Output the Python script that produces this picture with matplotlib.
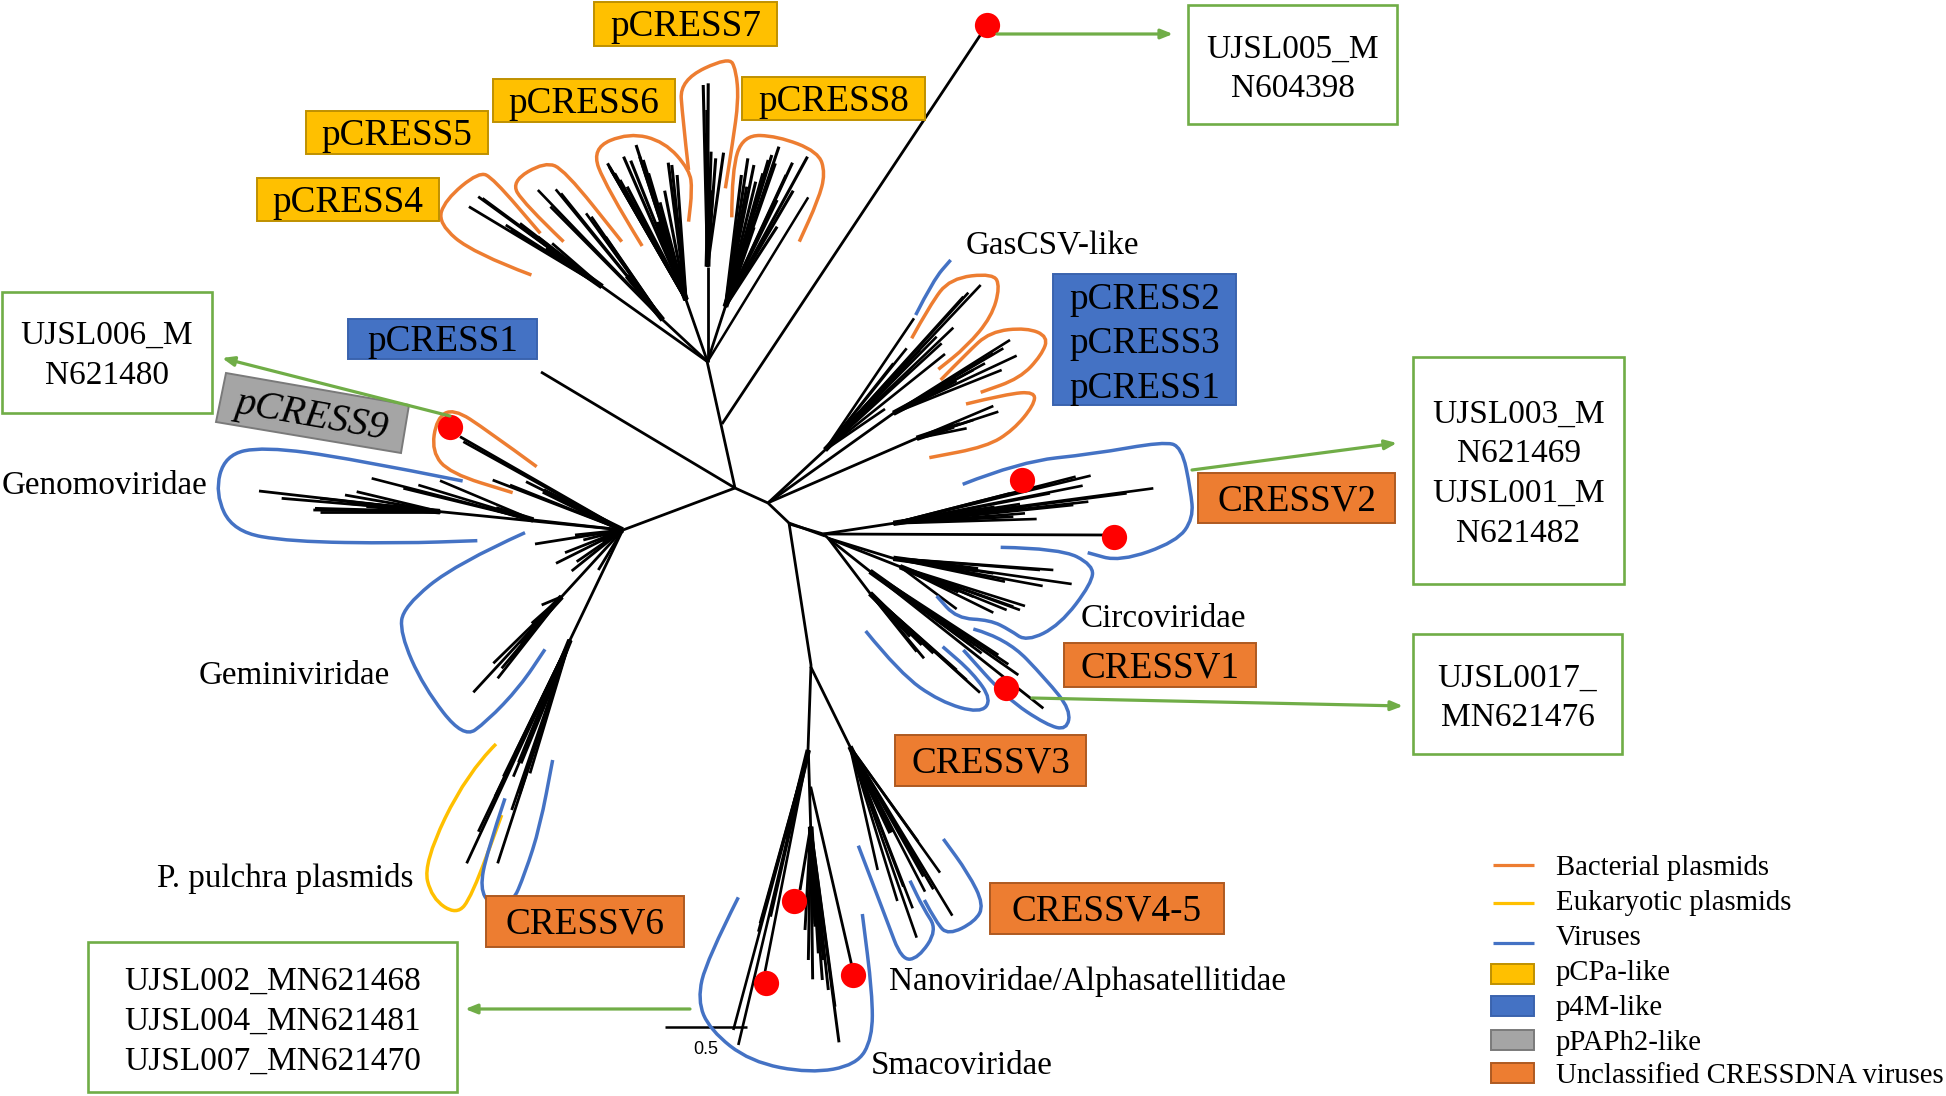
from matplotlib import pyplot as plt
from matplotlib.path import Path
import matplotlib.patches as mpatches
import numpy as np

plt.rcParams['font.family'] = ['Liberation Serif', 'DejaVu Serif']

BLACK = 'black'
ORANGE = '#ED7D31'
YELLOW = '#FFC000'
BLUE = '#4472C4'
GRAY = '#A5A5A5'
GREEN = '#70AD47'
RED = '#FF0000'
EDGES = {YELLOW: '#BF9000', BLUE: '#3A63AE', GRAY: '#7A7A7A', ORANGE: '#AE5A21'}

SIZE_BOX = 26.8
SIZE_LABEL = 23.9
SIZE_NOTE = 24.0
SIZE_LEGEND = 20.7


def crop(x0, y0, sx, sy, pts):
    return [(x0 + x / sx, y0 + y / sy) for x, y in pts]


def c1(pts):
    return crop(420, 0, 2.8, 3, pts)


def c2(pts):
    return crop(760, 230, 3, 3, pts)


def c3(pts):
    return crop(200, 400, 3, 3, pts)


def c4(pts):
    return crop(640, 660, 3, 3, pts)


# backbone of the tree
backbone = [
    [(707, 361), (735, 488)],
    [(541, 372), (735, 488)],
    [(623, 530), (735, 488)],
    [(735, 488), (768, 503), (789, 523), (825, 536)],
    [(789, 523), (811, 665), (808, 750)],
    [(987, 25), (722, 424)],
]

# clusters: hub, inner node, tips
top_hub = c1([(805, 1085)])[0]
pcress4_node = c1([(510, 860)])[0]
pcress4_tips = c1([(163, 590), (137, 620), (240, 675), (280, 670), (370, 730), (300, 695), (175, 595), (330, 710), (255, 690)])
pcress5_node = c1([(680, 960)])[0]
pcress5_tips = c1([(330, 570), (380, 568), (365, 620), (465, 640), (500, 690), (395, 580), (480, 650), (520, 710)])
pcress6_node = c1([(745, 900)])[0]
pcress6_tips = c1([(525, 490), (530, 500), (570, 470), (590, 482), (605, 435), (695, 488), (720, 525), (672, 607),
                   (685, 572), (545, 520), (615, 470), (705, 495), (625, 480), (560, 540), (535, 510), (580, 560), (640, 520)])
pcress7_node = c1([(805, 800)])[0]
pcress7_tips = c1([(793, 255), (807, 250), (815, 455), (850, 458), (828, 475), (808, 600), (820, 570), (800, 400), (803, 330)])
pcress8_node = c1([(855, 920)])[0]
pcress8_tips = c1([(1005, 440), (918, 475), (935, 495), (900, 525), (985, 465), (995, 490), (1043, 488), (1085, 470),
                   (1000, 680), (1045, 572), (940, 545), (1025, 525), (975, 480), (915, 560), (960, 520), (1000, 600)])
pcress8_outer = c1([(1087, 592)])

right_hub = c2([(25, 818)])[0]
gas_node = c2([(195, 660)])[0]
gas_tips = c2([(462, 265), (662, 165), (625, 188), (580, 293), (545, 340), (555, 372), (440, 355), (400, 400), (375, 537),
               (530, 320), (610, 200), (480, 360), (420, 430)])
pc3_node = c2([(400, 550)])[0]
pc3_tips = c2([(750, 330), (770, 377), (725, 420), (730, 355), (675, 400), (700, 370), (640, 420)])
pc1_node = c2([(470, 625)])[0]
pc1_tips = c2([(700, 528), (715, 545), (640, 570), (620, 595), (600, 580)])

low_hub = c2([(190, 912)])[0]
v2_node = c2([(400, 880)])[0]
v2_tips = c2([(992, 737), (947, 740), (968, 767), (1180, 775), (985, 815), (830, 867), (795, 850), (780, 822), (750, 790),
              (1100, 790), (940, 825), (870, 790), (800, 835), (760, 860)])
v2_single = c2([(1035, 915)])
circo_hub = c2([(205, 925)])[0]
circo_node = c2([(400, 985)])[0]
circo_tips = c2([(880, 1020), (935, 1062), (848, 1068), (735, 1055), (840, 1020), (700, 1030)])
circo_low_node = c2([(420, 1010)])[0]
circo_low_tips = c2([(795, 1128), (780, 1140), (700, 1148), (590, 1137), (760, 1130), (740, 1140), (640, 1100)])
v3_node = c2([(330, 1090)])[0]
v3_tips = c2([(492, 1285), (470, 1265), (485, 1245), (660, 1388), (620, 1350), (590, 1320), (520, 1270), (450, 1220)])
v1_node = c2([(330, 1024)])[0]
v1_tips = c2([(850, 1435), (775, 1335), (745, 1303), (715, 1275), (665, 1270), (640, 1250)])

left_hub = c3([(1268, 390)])[0]
pcress9_tips = c3([(780, 110), (878, 240), (930, 255), (978, 245), (790, 125)])
genomo_far_node = c3([(720, 335)])[0]
genomo_far_tips = c3([(177, 273), (245, 295), (340, 330), (360, 335), (435, 285), (470, 275), (360, 295), (345, 325), (440, 310)])
genomo_near_node = c3([(1000, 360)])[0]
genomo_near_tips = c3([(515, 235), (655, 255), (720, 242), (610, 265)])
short_tips = c3([(1005, 432), (1095, 458), (1068, 490), (1125, 405), (1115, 513), (1130, 485), (1195, 510), (1150, 420)])
gemini_node = c3([(1085, 590)])[0]
gemini_tips = c3([(820, 877), (880, 790), (893, 835), (1025, 615), (995, 670), (905, 805), (960, 730), (930, 780)])
pulchra_node = c3([(1110, 720)])[0]
pulchra_tips = c3([(800, 1390), (835, 1295), (885, 1190), (910, 1130), (940, 1130), (893, 1390), (935, 1230), (945, 1060),
                   (990, 1120), (960, 1180)])

nano_hub = c4([(512, 20)])[0]
nano_node = c4([(630, 260)])[0]
nano_tips = c4([(900, 638), (937, 767), (830, 833), (818, 745), (772, 723), (713, 630), (855, 695), (880, 688), (835, 545),
                (790, 680), (850, 650)])
smaco_hub = c4([(505, 270)])[0]
smaco_left = c4([(280, 1110), (295, 1155), (355, 815), (392, 770), (375, 935), (360, 790)])
smaco_node = c4([(512, 500)])[0]
smaco_mid = c4([(480, 690), (495, 810), (505, 900), (518, 958), (547, 960), (585, 1040), (597, 1147), (535, 880), (565, 990),
                (525, 800), (550, 900)])
smaco_right = c4([(635, 915)])
scale_bar = c4([(75, 1100), (320, 1100)])

red_dots = c2([(785, 750), (1063, 922), (737, 1373)]) + c3([(750, 82)]) + c4([(462, 723), (377, 968), (640, 946)]) + [(987, 25)]

# hand drawn outlines around the clades
orange_hulls = [
    c1([(312, 825), (150, 760), (50, 670), (70, 600), (165, 515), (205, 535), (337, 700)]),
    c1([(402, 725), (290, 610), (255, 545), (350, 485), (405, 510), (565, 725)]),
    c1([(622, 738), (520, 560), (480, 445), (585, 398), (685, 425), (755, 510), (762, 570), (752, 665)]),
    c1([(752, 510), (735, 350), (728, 240), (865, 170), (885, 210), (892, 300), (875, 430), (855, 565)]),
    c1([(873, 652), (873, 510), (905, 405), (1000, 408), (1115, 455), (1135, 520), (1115, 600), (1062, 725)]),
    c2([(455, 325), (510, 225), (570, 145), (700, 130), (720, 170), (695, 260), (620, 350), (535, 418)]),
    c2([(542, 450), (620, 370), (690, 305), (800, 293), (865, 320), (845, 375), (780, 445), (662, 487)]),
    c2([(618, 522), (740, 492), (825, 485), (822, 525), (760, 600), (680, 650), (508, 683)]),
    c3([(1010, 200), (860, 90), (760, 25), (710, 55), (695, 155), (750, 220), (938, 278)]),
]
yellow_hulls = [
    c3([(888, 1032), (800, 1120), (670, 1390), (695, 1495), (770, 1545), (815, 1490), (905, 1245)]),
]
blue_hulls = [
    c2([(467, 255), (520, 150), (572, 90)]),
    c2([(608, 763), (780, 695), (1000, 672), (1210, 635), (1265, 650), (1292, 780), (1300, 865), (1250, 935), (1080, 995),
        (983, 968)]),
    c2([(722, 952), (900, 955), (1000, 1005), (995, 1060), (900, 1185), (800, 1235), (750, 1200), (690, 1170), (590, 1165),
        (530, 1098)]),
    c2([(640, 1197), (740, 1225), (860, 1350), (932, 1440), (920, 1500), (860, 1485), (740, 1405), (610, 1260)]),
    c2([(317, 1203), (420, 1330), (540, 1415), (660, 1450), (695, 1410), (640, 1330), (548, 1250)]),
    c3([(788, 243), (450, 175), (190, 140), (75, 165), (45, 280), (100, 395), (270, 425), (600, 430), (832, 422)]),
    c3([(975, 398), (770, 490), (610, 620), (600, 700), (670, 860), (790, 1015), (860, 965), (960, 860), (1035, 748)]),
    c3([(915, 1195), (860, 1360), (840, 1465), (870, 1515), (935, 1515), (975, 1420), (1020, 1280), (1058, 1080)]),
    c4([(295, 712), (200, 900), (172, 1020), (210, 1110), (330, 1205), (510, 1240), (650, 1215), (697, 1135), (697, 1000),
        (667, 762)]),
    c4([(655, 557), (740, 780), (785, 900), (835, 895), (892, 810), (850, 745), (810, 662)]),
    c4([(853, 720), (890, 790), (925, 825), (1005, 785), (1032, 735), (985, 640), (910, 537)]),
]

# x0, y0, x1, y1 and text
yellow_boxes = [
    (594, 2, 777, 46, 'pCRESS7'),
    (493, 79, 675, 122, 'pCRESS6'),
    (742, 77, 925, 120, 'pCRESS8'),
    (306, 111, 488, 154, 'pCRESS5'),
    (257, 178, 439, 221, 'pCRESS4'),
]
blue_boxes = [(348, 319, 537, 359, 'pCRESS1')]
orange_boxes = [
    (1198, 473, 1395, 523, 'CRESSV2'),
    (1064, 643, 1256, 687, 'CRESSV1'),
    (895, 735, 1086, 786, 'CRESSV3'),
    (990, 883, 1224, 934, 'CRESSV4-5'),
    (486, 896, 684, 947, 'CRESSV6'),
]
pcress_stack_box = (1053, 274, 1236, 405)
pcress_stack_names = ['pCRESS2', 'pCRESS3', 'pCRESS1']
pcress_stack_y = [296, 340, 385]
pcress9_corners = [(226, 373), (409, 405), (401, 453), (216, 422)]

note_boxes = [(1188, 5, 1397, 124), (2, 292, 212, 413), (1413, 357, 1624, 584), (1413, 634, 1622, 754), (88, 942, 457, 1092)]
note_text = [
    ['UJSL005_M', 'N604398'],
    ['UJSL006_M', 'N621480'],
    ['UJSL003_M', 'N621469', 'UJSL001_M', 'N621482'],
    ['UJSL0017_', 'MN621476'],
    ['UJSL002_MN621468', 'UJSL004_MN621481', 'UJSL007_MN621470'],
]
note_y = [[46, 85], [332, 372], [411, 450, 490, 530], [675, 714], [978, 1018, 1058]]
arrows = [
    [(997, 34), (1173, 34)],
    [(450, 416), (222, 358)],
    [(1192, 470), (1397, 443)],
    [(1032, 698), (1403, 706)],
    [(690, 1009), (465, 1009)],
]
labels = [
    (966, 243, 'GasCSV-like'),
    (1081, 615, 'Circoviridae'),
    (2, 482, 'Genomoviridae'),
    (199, 672, 'Geminiviridae'),
    (157, 875, 'P. pulchra plasmids'),
    (889, 978, 'Nanoviridae/Alphasatellitidae'),
    (871, 1062, 'Smacoviridae'),
]

legend_lines = ['Bacterial plasmids', 'Eukaryotic plasmids', 'Viruses']
legend_line_colors = [ORANGE, YELLOW, BLUE]
legend_line_y = [865, 903, 943]
legend_patches = ['pCPa-like', 'p4M-like', 'pPAPh2-like', 'Unclassified CRESSDNA viruses']
legend_patch_colors = [YELLOW, BLUE, GRAY, ORANGE]
legend_patch_y = [964, 996, 1030, 1063]
legend_text_y = [865, 900, 935, 970, 1005, 1040, 1073]


def branch(ax, pts, lw=1.9):
    xy = np.array(pts)
    ax.plot(xy[:, 0], xy[:, 1], color=BLACK, lw=lw, solid_capstyle='butt', solid_joinstyle='round', zorder=2)


def fan(ax, hub, node, tips, lw=1.9, core=0.6):
    branch(ax, [hub, node], 2.0)
    for tip in tips:
        branch(ax, [node, tip], lw)
    # the merged stem where the leaves run together
    mean = np.mean(np.array(tips), axis=0)
    branch(ax, [node, (node[0] + core * (mean[0] - node[0]), node[1] + core * (mean[1] - node[1]))], lw + 2.0)


def hull(ax, pts, color):
    # quadratic segments between midpoints give the freehand look
    verts = [pts[0]]
    codes = [Path.MOVETO]
    for i in range(1, len(pts) - 1):
        mid = ((pts[i][0] + pts[i + 1][0]) / 2, (pts[i][1] + pts[i + 1][1]) / 2)
        verts += [pts[i], mid]
        codes += [Path.CURVE3, Path.CURVE3]
    verts.append(pts[-1])
    codes.append(Path.LINETO)
    ax.add_patch(mpatches.PathPatch(Path(verts, codes), fill=False, edgecolor=color, lw=2.5, capstyle='butt', zorder=3))


def box(ax, x0, y0, x1, y1, color, zorder=4):
    ax.add_patch(mpatches.Rectangle((x0, y0), x1 - x0, y1 - y0, facecolor=color, edgecolor=EDGES[color], lw=1.4, zorder=zorder))


fig = plt.figure(figsize=(19.46, 10.96), dpi=100)
ax = fig.add_axes([0, 0, 1, 1])
ax.set_xlim(0, 1946)
ax.set_ylim(1096, 0)
ax.axis('off')

for seg in backbone:
    branch(ax, seg, 2.0)

fan(ax, top_hub, pcress4_node, pcress4_tips, 2.0)
fan(ax, top_hub, pcress5_node, pcress5_tips, 1.9, core=0.4)
fan(ax, top_hub, pcress6_node, pcress6_tips, 2.2)
fan(ax, top_hub, pcress7_node, pcress7_tips, 2.2)
fan(ax, top_hub, pcress8_node, pcress8_tips, 2.2)
branch(ax, [top_hub, pcress8_outer[0]], 1.8)

fan(ax, right_hub, gas_node, gas_tips)
fan(ax, right_hub, pc3_node, pc3_tips)
fan(ax, right_hub, pc1_node, pc1_tips)

branch(ax, [c2([(88, 882)])[0], low_hub], 2.0)
fan(ax, low_hub, v2_node, v2_tips)
branch(ax, [low_hub, v2_single[0]], 2.0)
branch(ax, [low_hub, circo_hub], 2.0)
fan(ax, circo_hub, circo_node, circo_tips)
fan(ax, circo_hub, circo_low_node, circo_low_tips)
fan(ax, circo_hub, v3_node, v3_tips, 2.0)
fan(ax, circo_hub, v1_node, v1_tips, 2.0, core=0.4)

fan(ax, left_hub, left_hub, pcress9_tips, 2.0)
fan(ax, left_hub, genomo_far_node, genomo_far_tips, 2.0)
fan(ax, left_hub, genomo_near_node, genomo_near_tips, 1.9, core=0.3)
fan(ax, left_hub, left_hub, short_tips, 2.0, core=0.4)
fan(ax, left_hub, gemini_node, gemini_tips, 2.0)
fan(ax, left_hub, pulchra_node, pulchra_tips, 2.0, core=0.75)

fan(ax, nano_hub, nano_node, nano_tips, 1.9)
fan(ax, smaco_hub, smaco_hub, smaco_left, 1.9, core=0.4)
fan(ax, smaco_hub, smaco_node, smaco_mid, 2.1, core=0.7)
branch(ax, [c4([(512, 380)])[0], smaco_right[0]], 2.0)
branch(ax, scale_bar, 1.8)
ax.text(706, 1049, '0.5', family='Liberation Sans', fontsize=13, ha='center', va='center', zorder=6)

for pts in orange_hulls:
    hull(ax, pts, ORANGE)
for pts in yellow_hulls:
    hull(ax, pts, YELLOW)
for pts in blue_hulls:
    hull(ax, pts, BLUE)

ax.scatter([p[0] for p in red_dots], [p[1] for p in red_dots], s=330, color=RED, linewidths=0, zorder=5)

for x0, y0, x1, y1, name in yellow_boxes:
    box(ax, x0, y0, x1, y1, YELLOW)
    ax.text((x0 + x1) / 2, (y0 + y1) / 2 - 1, name, fontsize=SIZE_BOX, ha='center', va='center_baseline', zorder=6)
for x0, y0, x1, y1, name in blue_boxes:
    box(ax, x0, y0, x1, y1, BLUE)
    ax.text((x0 + x1) / 2, (y0 + y1) / 2 - 1, name, fontsize=SIZE_BOX, ha='center', va='center_baseline', zorder=6)
for x0, y0, x1, y1, name in orange_boxes:
    box(ax, x0, y0, x1, y1, ORANGE)
    ax.text((x0 + x1) / 2, (y0 + y1) / 2 - 1, name, fontsize=SIZE_BOX, ha='center', va='center_baseline', zorder=6)

box(ax, *pcress_stack_box, BLUE)
for name, y in zip(pcress_stack_names, pcress_stack_y):
    ax.text((pcress_stack_box[0] + pcress_stack_box[2]) / 2, y, name, fontsize=SIZE_BOX, ha='center', va='center_baseline', zorder=6)

ax.add_patch(mpatches.Polygon(pcress9_corners, closed=True, facecolor=GRAY, edgecolor=EDGES[GRAY], lw=1.4, zorder=4))
ax.text(312, 412, 'pCRESS9', fontsize=28.5, style='italic', rotation=-10, rotation_mode='anchor', ha='center',
        va='center_baseline', zorder=6)

for (x0, y0, x1, y1), lines, ys in zip(note_boxes, note_text, note_y):
    ax.add_patch(mpatches.Rectangle((x0, y0), x1 - x0, y1 - y0, facecolor='white', edgecolor=GREEN, lw=1.9, zorder=4))
    for line, y in zip(lines, ys):
        ax.text((x0 + x1) / 2, y, line, fontsize=SIZE_NOTE, ha='center', va='center_baseline', zorder=6)

for start, end in arrows:
    ax.annotate('', xy=end, xytext=start, zorder=5,
                arrowprops=dict(arrowstyle='-|>,head_length=0.7,head_width=0.28', color=GREEN, lw=2.3, shrinkA=0, shrinkB=0))

for x, y, name in labels:
    ax.text(x, y, name, fontsize=SIZE_LABEL, ha='left', va='center_baseline', zorder=6)

for color, y in zip(legend_line_colors, legend_line_y):
    ax.plot([1493, 1534], [y, y], color=color, lw=2.3, solid_capstyle='butt', zorder=4)
for color, y in zip(legend_patch_colors, legend_patch_y):
    box(ax, 1491, y, 1534, y + 20, color)
for name, y in zip(legend_lines + legend_patches, legend_text_y):
    ax.text(1556, y, name, fontsize=SIZE_LEGEND, ha='left', va='center_baseline', zorder=6)

plt.savefig('out.png', dpi=100, facecolor='white')
